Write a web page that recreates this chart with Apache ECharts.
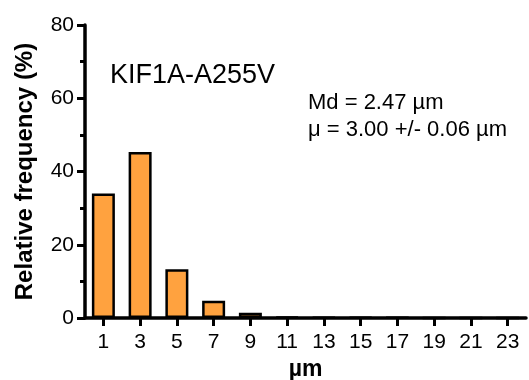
<!DOCTYPE html>
<html>
<head>
<meta charset="utf-8">
<script src="https://cdn.jsdelivr.net/npm/echarts@6/dist/echarts.min.js"></script>
<style>
  html, body { margin: 0; padding: 0; background: #fff; }
  #chart { width: 529px; height: 380px; }
</style>
</head>
<body>
<div id="chart"></div>
<script>
// Run-length histogram bins (µm) and relative frequency (%)
const binCenters = ['1', '3', '5', '7', '9', '11', '13', '15', '17', '19', '21', '23'];
const relFrequency = [34.0, 45.3, 13.3, 4.7, 1.4, 0.3, 0.15, 0.2, 0.1, 0, 0, 0];
const yTicks = [0, 20, 40, 60, 80];

const titleText = 'KIF1A-A255V';
const statLines = ['Md = 2.47 µm', 'μ = 3.00 +/- 0.06 µm'];

const FONT = '"Liberation Sans", Arial, Helvetica, sans-serif';

const chart = echarts.init(document.getElementById('chart'), null, { renderer: 'canvas' });

chart.setOption({
  animation: false,
  backgroundColor: '#ffffff',
  grid: { left: 85, right: 3, top: 25, bottom: 62, containLabel: false, outerBoundsMode: 'none' },
  xAxis: {
    type: 'category',
    data: binCenters,
    boundaryGap: true,
    name: 'µm',
    nameLocation: 'middle',
    nameGap: 38,
    nameTextStyle: { fontFamily: FONT, fontSize: 23, fontWeight: 'bold', color: '#000' },
    axisLine: { show: true, lineStyle: { color: '#000', width: 3.5 } },
    axisTick: { show: true, alignWithLabel: true, length: 8, lineStyle: { color: '#000', width: 3 } },
    axisLabel: { fontFamily: FONT, fontSize: 21, color: '#000', margin: 14 },
    splitLine: { show: false }
  },
  yAxis: {
    type: 'value',
    min: yTicks[0],
    max: yTicks[yTicks.length - 1],
    interval: 20,
    name: 'Relative frequency (%)',
    nameLocation: 'middle',
    nameGap: 48,
    nameTextStyle: { fontFamily: FONT, fontSize: 24, fontWeight: 'bold', color: '#000' },
    axisLine: { show: true, lineStyle: { color: '#000', width: 3.5 } },
    axisTick: { show: true, length: 8, lineStyle: { color: '#000', width: 3 } },
    minorTick: { show: true, splitNumber: 2, length: 5, lineStyle: { color: '#000', width: 3 } },
    axisLabel: { fontFamily: FONT, fontSize: 21, color: '#000', margin: 11 },
    splitLine: { show: false },
    minorSplitLine: { show: false }
  },
  series: [{
    type: 'bar',
    data: relFrequency,
    barWidth: 23,
    itemStyle: { color: '#FFA23F', borderColor: '#000', borderWidth: 2.5 },
    silent: true
  }],
  graphic: [
    {
      type: 'text', left: 110, top: 62,
      style: { text: titleText, fontFamily: FONT, fontSize: 27, fill: '#000' }
    },
    {
      type: 'text', left: 308, top: 89,
      style: { text: statLines.join('\n'), fontFamily: FONT, fontSize: 22, lineHeight: 27, fill: '#000' }
    }
  ]
});
</script>
</body>
</html>
